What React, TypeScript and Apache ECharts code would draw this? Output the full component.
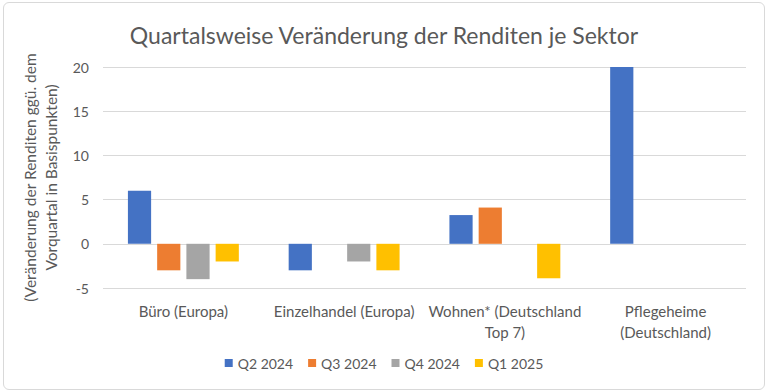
import React, { useEffect, useRef } from "react";
import * as echarts from "echarts";

const categories = [
  "Büro (Europa)",
  "Einzelhandel (Europa)",
  "Wohnen* (Deutschland\nTop 7)",
  "Pflegeheime\n(Deutschland)",
];
const seriesNames = ["Q2 2024", "Q3 2024", "Q4 2024", "Q1 2025"];
const q2_2024 = [6, -3, 3.25, 20];
const q3_2024 = [-3, 0, 4.1, 0];
const q4_2024 = [-4, -2, 0, 0];
const q1_2025 = [-2, -3, -3.9, 0];
const colors = ["#4472C4", "#ED7D31", "#A5A5A5", "#FFC000"];
const yTicks = { min: -5, max: 20, interval: 5 };

export default function App() {
  const ref = useRef<HTMLDivElement>(null);
  useEffect(() => {
    const chart = echarts.init(ref.current!, null, { renderer: "svg" });
    const font = "Lato, 'Noto Sans', sans-serif";
    const data = [q2_2024, q3_2024, q4_2024, q1_2025];
    chart.setOption({
      animation: false,
      textStyle: { fontFamily: font },
      title: {
        text: "Quartalsweise Veränderung der Renditen je Sektor",
        left: "center",
        top: 18,
        textStyle: { fontFamily: font, fontSize: 23, fontWeight: "normal", color: "#595959" },
      },
      legend: {
        bottom: 17,
        left: "center",
        itemWidth: 8,
        itemHeight: 8,
        itemGap: 15,
        icon: "rect",
        textStyle: { fontFamily: font, fontSize: 14, color: "#595959" },
        data: seriesNames,
      },
      grid: { left: 103, right: 22, top: 67, bottom: 104 },
      xAxis: {
        type: "category",
        data: categories,
        axisLine: { show: false },
        axisTick: { show: false },
        axisLabel: {
          interval: 0,
          fontFamily: font,
          fontSize: 15,
          color: "#595959",
          margin: 12,
          lineHeight: 21,
        },
      },
      yAxis: {
        type: "value",
        min: yTicks.min,
        max: yTicks.max,
        interval: yTicks.interval,
        name: "(Veränderung der Renditen ggü. dem\nVorquartal in Basispunkten)",
        nameLocation: "middle",
        nameGap: 40,
        nameRotate: 90,
        nameTextStyle: { fontFamily: font, fontSize: 15.5, color: "#595959", lineHeight: 21 },
        axisLabel: { fontFamily: font, fontSize: 14, color: "#595959", margin: 14 },
        splitLine: { lineStyle: { color: "#D9D9D9", width: 1 } },
      },
      series: seriesNames.map((name, i) => ({
        name,
        type: "bar",
        data: data[i],
        itemStyle: { color: colors[i] },
        barGap: "26%",
        barCategoryGap: "31%",
      })),
    });
    return () => chart.dispose();
  }, []);
  return (
    <div
      style={{
        position: "absolute",
        left: 0,
        top: 0,
        width: 768,
        height: 392,
        background: "#fff",
      }}
    >
      <div
        style={{
          position: "absolute",
          left: 3,
          top: 2,
          right: 3,
          bottom: 2,
          border: "1px solid #D9D9D9",
          borderRadius: 6,
        }}
      />
      <div ref={ref} style={{ position: "absolute", left: 0, top: 0, width: 768, height: 392 }} />
    </div>
  );
}
